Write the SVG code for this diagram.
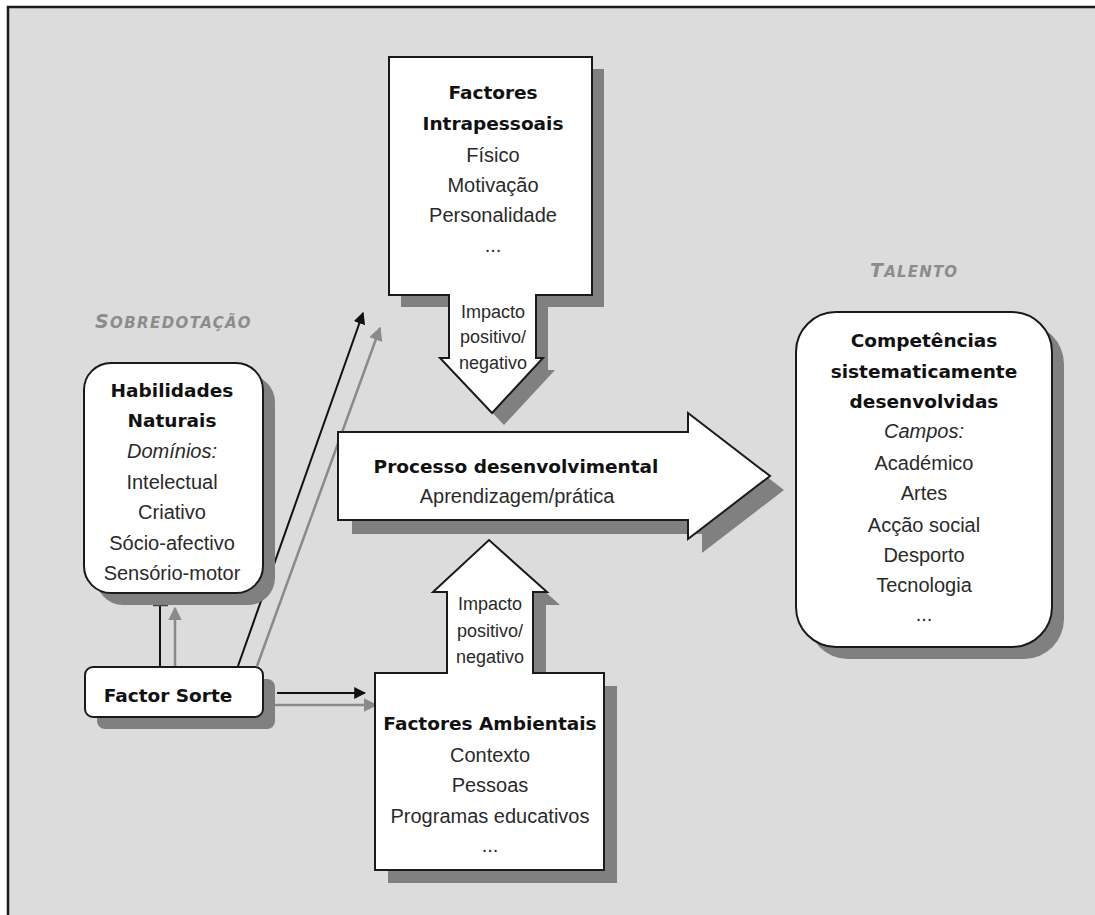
<svg xmlns="http://www.w3.org/2000/svg" width="1095" height="915" viewBox="0 0 1095 915">
<style>
.shape{fill:#ffffff;stroke:#1a1a1a;stroke-width:2}
.shadow{fill:#808080;stroke:none}
.b{font-family:"DejaVu Sans",sans-serif;font-weight:bold;font-size:18.5px;fill:#111;text-anchor:middle}
.r{font-family:"Liberation Sans",Arial,sans-serif;font-size:20px;fill:#2a2a2a;text-anchor:middle}
.i{font-family:"Liberation Sans",Arial,sans-serif;font-size:20px;font-style:italic;fill:#2a2a2a;text-anchor:middle}
.s{font-family:"Liberation Sans",Arial,sans-serif;font-size:18px;fill:#2a2a2a;text-anchor:middle}
.lab{font-family:"DejaVu Sans",sans-serif;font-weight:bold;font-style:italic;font-size:19px;fill:#8c8c8c}
.sc{font-size:15px}
.cb{stroke:#111;stroke-width:2;fill:none}
.cg{stroke:#8a8a8a;stroke-width:2.5;fill:none}
</style>
<defs>
<marker id="ab" viewBox="0 0 10 10" refX="9" refY="5" markerWidth="6" markerHeight="6" markerUnits="strokeWidth" orient="auto">
<path d="M0,0 L10,5 L0,10 Z" fill="#111"/>
</marker>
<marker id="ag" viewBox="0 0 10 10" refX="9" refY="5" markerWidth="5.5" markerHeight="5.5" markerUnits="strokeWidth" orient="auto">
<path d="M0,0 L10,5 L0,10 Z" fill="#8a8a8a"/>
</marker>
</defs>
<rect x="0" y="0" width="1095" height="915" fill="#ffffff"/>
<rect x="8" y="7" width="1100" height="920" fill="#dcdcdc" stroke="#1a1a1a" stroke-width="2.5"/>

<text class="lab" x="95" y="328" letter-spacing="1.4">S<tspan class="sc">OBREDOTAÇÃO</tspan></text>
<text class="lab" x="870" y="277" letter-spacing="1.2">T<tspan class="sc">ALENTO</tspan></text>

<g id="connectors">
<line class="cb" x1="160" y1="667" x2="160" y2="605"/>
<line x1="153" y1="605" x2="168" y2="605" stroke="#444" stroke-width="2.5"/>
<line class="cg" x1="175" y1="667" x2="175" y2="608" marker-end="url(#ag)"/>
<line class="cb" x1="238" y1="666" x2="363" y2="313" marker-end="url(#ab)"/>
<line class="cg" x1="257" y1="666" x2="380" y2="328" marker-end="url(#ag)"/>
<line class="cb" x1="277" y1="693" x2="365" y2="693" marker-end="url(#ab)"/>
<line class="cg" x1="272" y1="705" x2="376" y2="705" marker-end="url(#ag)"/>
</g>

<g id="intrapessoais">
<path class="shadow" transform="translate(12,12)" d="M389,57 H592 V295 H536 V358 H543 L492,413 L440,358 H449 V295 H389 Z"/>
<path class="shape" d="M389,57 H592 V295 H536 V358 H543 L492,413 L440,358 H449 V295 H389 Z"/>
<text class="b" x="493" y="99">Factores</text>
<text class="b" x="493" y="130">Intrapessoais</text>
<text class="r" x="493" y="162">Físico</text>
<text class="r" x="493" y="192">Motivação</text>
<text class="r" x="493" y="222">Personalidade</text>
<text class="r" x="493" y="252">...</text>
<text class="s" x="493" y="318">Impacto</text>
<text class="s" x="493" y="343">positivo/</text>
<text class="s" x="493" y="369">negativo</text>
</g>

<g id="processo">
<path class="shadow" transform="translate(14,14)" d="M338,432 H688 V413 L770,476 L688,539 V520 H338 Z"/>
<path class="shape" d="M338,432 H688 V413 L770,476 L688,539 V520 H338 Z"/>
<text class="b" x="516" y="473">Processo desenvolvimental</text>
<text class="r" x="517" y="503">Aprendizagem/prática</text>
</g>

<g id="ambientais">
<path class="shadow" transform="translate(13,13)" d="M375,673 H447 V592 H433 L489,540 L547,592 H533 V673 H604 V870 H375 Z"/>
<path class="shape" d="M375,673 H447 V592 H433 L489,540 L547,592 H533 V673 H604 V870 H375 Z"/>
<text class="s" x="490" y="610">Impacto</text>
<text class="s" x="490" y="637">positivo/</text>
<text class="s" x="490" y="663">negativo</text>
<text class="b" x="490" y="730">Factores Ambientais</text>
<text class="r" x="490" y="762">Contexto</text>
<text class="r" x="490" y="792">Pessoas</text>
<text class="r" x="490" y="823">Programas educativos</text>
<text class="r" x="490" y="852">...</text>
</g>

<g id="habilidades">
<rect class="shadow" x="96" y="375" width="179" height="230" rx="27"/>
<rect class="shape" x="84" y="363" width="179" height="230" rx="27"/>
<text class="b" x="172" y="397">Habilidades</text>
<text class="b" x="172" y="427">Naturais</text>
<text class="i" x="172" y="458">Domínios:</text>
<text class="r" x="172" y="489">Intelectual</text>
<text class="r" x="172" y="519">Criativo</text>
<text class="r" x="172" y="550">Sócio-afectivo</text>
<text class="r" x="172" y="580">Sensório-motor</text>
</g>

<g id="sorte">
<rect class="shadow" x="97" y="679" width="178" height="50" rx="8"/>
<rect class="shape" x="85" y="667" width="178" height="50" rx="8"/>
<text class="b" x="168" y="702">Factor Sorte</text>
</g>

<g id="competencias">
<rect class="shadow" x="808" y="324" width="256" height="335" rx="40"/>
<rect class="shape" x="796" y="312" width="256" height="335" rx="40"/>
<text class="b" x="924" y="347">Competências</text>
<text class="b" x="924" y="378">sistematicamente</text>
<text class="b" x="924" y="408">desenvolvidas</text>
<text class="i" x="924" y="438">Campos:</text>
<text class="r" x="924" y="470">Académico</text>
<text class="r" x="924" y="500">Artes</text>
<text class="r" x="924" y="532">Acção social</text>
<text class="r" x="924" y="562">Desporto</text>
<text class="r" x="924" y="592">Tecnologia</text>
<text class="r" x="924" y="621">...</text>
</g>
</svg>
